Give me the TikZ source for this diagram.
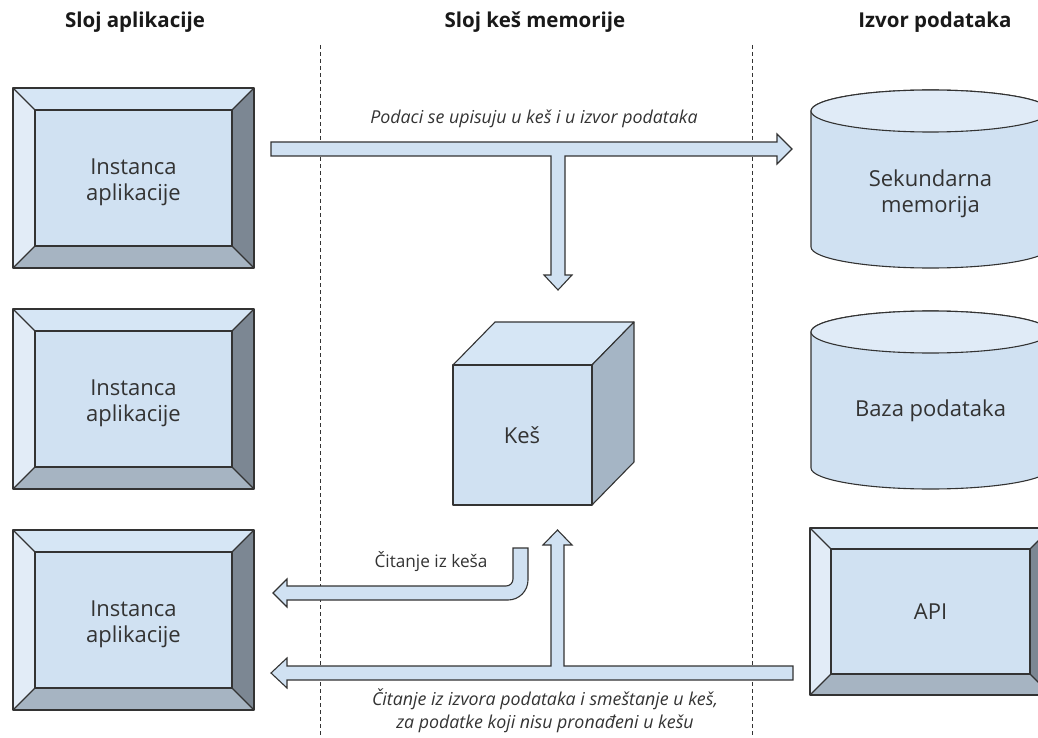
\documentclass[tikz,border=0pt]{standalone}
\usepackage{fontspec}
\setmainfont{Open Sans}
\usetikzlibrary{calc}
\definecolor{cmain}{HTML}{D0E1F2}
\definecolor{ctop}{HTML}{D6E6F5}
\definecolor{cleft}{HTML}{E2ECF7}
\definecolor{cbot}{HTML}{A6B4C2}
\definecolor{cright}{HTML}{7C8793}
\definecolor{ccubeside}{HTML}{A5B5C5}
\definecolor{cyltop}{HTML}{E0EBF7}
\definecolor{cline}{HTML}{333333}
\definecolor{ctext}{HTML}{333333}
\tikzset{
  edge/.style={draw=cline, line width=1.1pt, line join=round},
  blockarrow/.style={fill=cmain, draw=cline, line width=1.1pt, line join=miter},
  lane/.style={draw=cline, line width=0.8pt, dash pattern=on 4pt off 3pt},
  header/.style={font=\bfseries\fontsize{20.5}{24}\selectfont, text=black!90},
  boxtext/.style={font=\fontsize{22}{26}\selectfont, text=ctext, align=center},
  arrowtext/.style={font=\fontsize{17.2}{23}\selectfont, text=ctext, align=center},
  arrowtextit/.style={font=\itshape\fontsize{17.8}{23}\selectfont, text=ctext, align=center},
}
\newcommand{\bvbox}[8]{% name x1 y1 x2 y2 bevel text yshift
  \fill[cmain] (#2+#6,#3+#6) rectangle (#4-#6,#5-#6);
  \fill[ctop] (#2,#3) -- (#4,#3) -- (#4-#6,#3+#6) -- (#2+#6,#3+#6) -- cycle;
  \fill[cleft] (#2,#3) -- (#2+#6,#3+#6) -- (#2+#6,#5-#6) -- (#2,#5) -- cycle;
  \fill[cbot] (#2,#5) -- (#2+#6,#5-#6) -- (#4-#6,#5-#6) -- (#4,#5) -- cycle;
  \fill[cright] (#4,#3) -- (#4-#6,#3+#6) -- (#4-#6,#5-#6) -- (#4,#5) -- cycle;
  \draw[edge] (#2,#3) rectangle (#4,#5);
  \draw[edge] (#2+#6,#3+#6) rectangle (#4-#6,#5-#6);
  \draw[edge] (#2,#3) -- (#2+#6,#3+#6) (#4,#3) -- (#4-#6,#3+#6)
              (#2,#5) -- (#2+#6,#5-#6) (#4,#5) -- (#4-#6,#5-#6);
  \node[boxtext] (#1) at ({(#2+#4)/2},{(#3+#5)/2+#8}) {#7};
}
\newcommand{\cylshape}[8]{% name x1 x2 ytop ybot ry text yshift
  \filldraw[edge, fill=cmain] (#2,#4) -- (#2,#5) arc (180:0:{(#3-#2)/2} and #6) -- (#3,#4) arc (0:-180:{(#3-#2)/2} and #6) -- cycle;
  \filldraw[edge, fill=cyltop] ({(#2+#3)/2},#4) ellipse ({(#3-#2)/2} and #6);
  \node[boxtext] (#1) at ({(#2+#3)/2},{(#4+#5)/2+#8}) {#7};
}
\begin{document}
\begin{tikzpicture}[x=1pt,y=-1pt]
\useasboundingbox (0,0) rectangle (1038,738);
\clip (0,0) rectangle (1038,738);

% headers
\node[header] (h1) at (135,22) {Sloj aplikacije};
\node[header] (h2) at (535,22) {Sloj keš memorije};
\node[header] (h3) at (935,22) {Izvor podataka};

% lane separators
\coordinate (l1t) at (320,45); \coordinate (l1b) at (320,738);
\coordinate (l2t) at (752,45); \coordinate (l2b) at (752,738);
\draw[lane] (l1t) -- (l1b);
\draw[lane] (l2t) -- (l2b);

% application instances
\bvbox{app1}{13}{88}{254}{268}{22}{Instanca\\aplikacije}{4}
\bvbox{app2}{13}{309}{254}{489}{22}{Instanca\\aplikacije}{4}
\bvbox{app3}{13}{530}{254}{710}{22}{Instanca\\aplikacije}{4}

% data sources
\cylshape{sec}{811}{1050}{111}{247}{21}{Sekundarna\\memorija}{15}
\cylshape{db}{811}{1050}{332}{468}{21}{Baza podataka}{11}
\bvbox{api}{810}{528}{1051}{695}{21}{API}{0}

% cache cube
\fill[cmain] (453,365) rectangle (592,505);
\filldraw[edge, fill=ctop] (453,365) -- (495,322) -- (634,322) -- (592,365) -- cycle;
\filldraw[edge, fill=ccubeside] (592,365) -- (634,322) -- (634,462) -- (592,505) -- cycle;
\draw[edge] (453,365) rectangle (592,505);
\node[boxtext] (cache) at (522,435) {Keš};

% write-through arrow
\draw[blockarrow] (271,142) -- (777,142) -- (777,134) -- (792,149) -- (777,164) -- (777,156)
  -- (565,156) -- (565,275) -- (572,275) -- (558,290) -- (544,275) -- (551,275) -- (551,156)
  -- (271,156) -- cycle;
\node[arrowtextit] (lw) at (534,119) {Podaci se upisuju u keš i u izvor podataka};

% read from cache
\draw[blockarrow] (513,548) -- (528,548) -- (528,580) arc (0:90:20) -- (287,600) -- (287,607)
  -- (273,593) -- (287,579) -- (287,586) -- (506,586) arc (90:0:7) -- cycle;
\node[arrowtext] (lr) at (431,562) {Čitanje iz keša};

% read from source and store in cache
\draw[blockarrow] (793,666) -- (793,680) -- (287,680) -- (287,688) -- (271,673) -- (287,658)
  -- (287,666) -- (551,666) -- (551,545) -- (543,545) -- (557.5,530) -- (572,545) -- (564,545)
  -- (564,666) -- cycle;
\node[arrowtextit] (lm) at (545,711) {Čitanje iz izvora podataka i smeštanje u keš,\\za podatke koji nisu pronađeni u kešu};
\end{tikzpicture}
\end{document}
